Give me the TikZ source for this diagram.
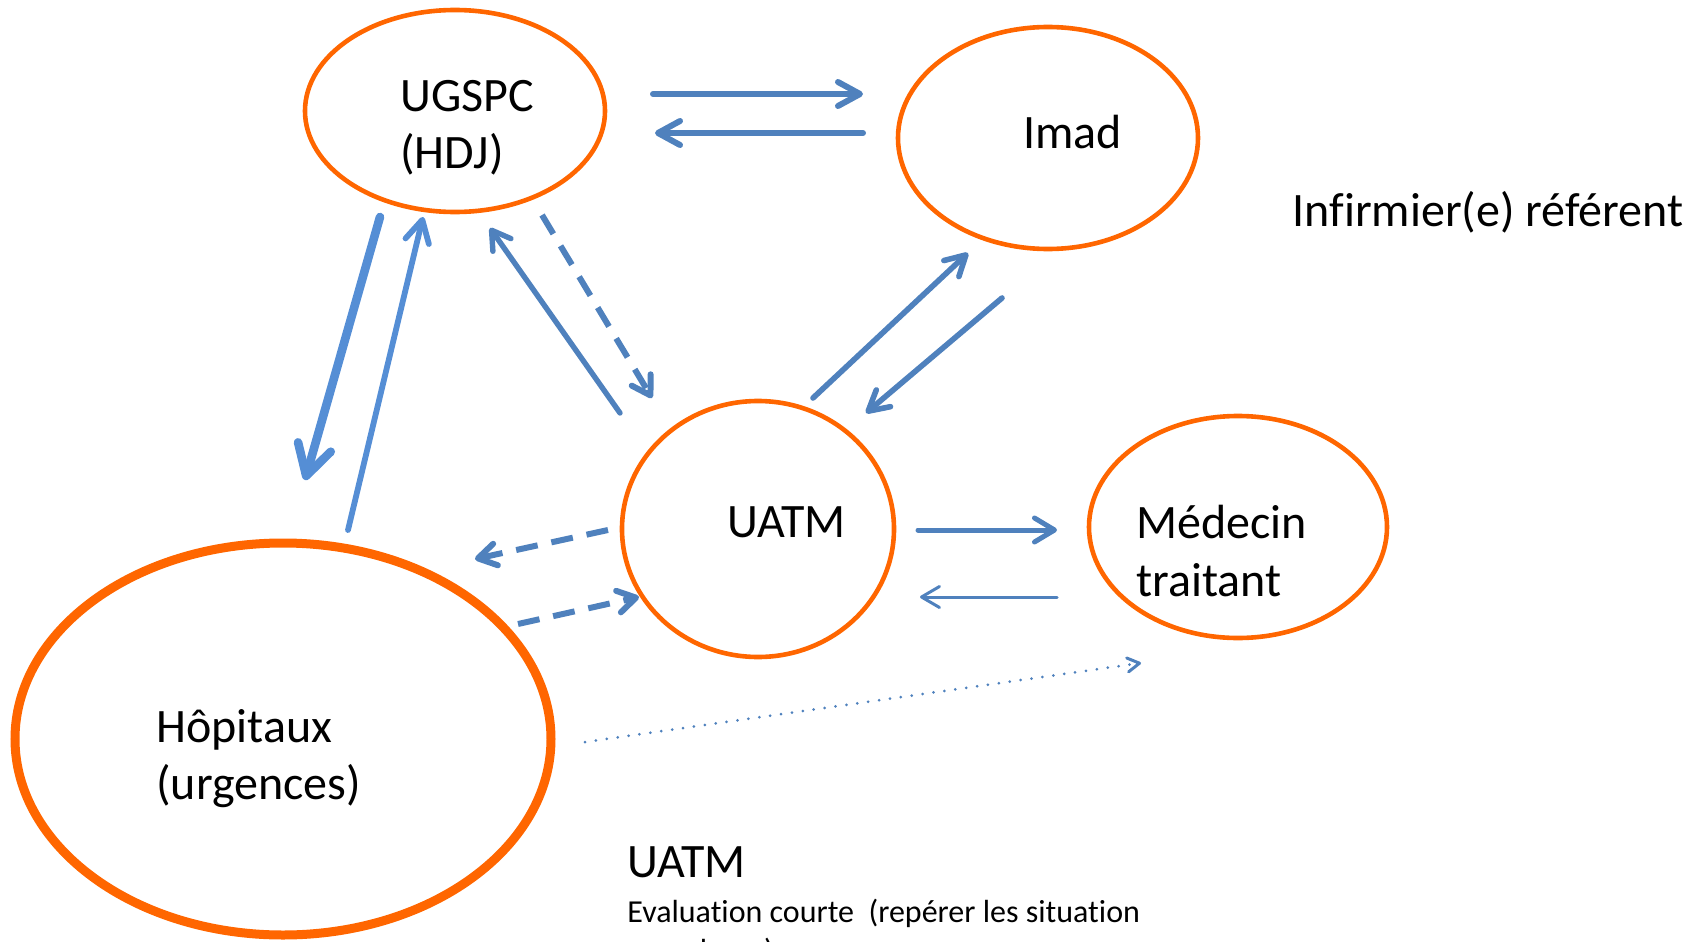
\documentclass[tikz,border=0pt]{standalone}
\usepackage{fontspec}
\setmainfont{Carlito}[Ligatures=NoCommon]
\usetikzlibrary{arrows.meta,shapes.geometric}
\definecolor{orng}{HTML}{FF6600}
\definecolor{blu}{HTML}{4F81BD}
\definecolor{blutwo}{HTML}{558ED5}
\begin{document}
\begin{tikzpicture}[x=0.5pt,y=-0.5pt,
  circ/.style={draw=orng,ellipse,line width=2.3pt,inner sep=0pt},
  lbl/.style={anchor=base west,inner sep=0pt,font=\fontsize{24}{29}\selectfont},
  small/.style={anchor=base west,inner sep=0pt,font=\fontsize{16}{19.5}\selectfont},
  conn/.style={draw=blu,line cap=round,line join=round},
  dashline/.style={dash pattern=on 11pt off 7pt},
  dotline/.style={line cap=round,dash pattern=on 0pt off 5.5pt},
  ]
\useasboundingbox (0,0) rectangle (1704,942);
\clip (0,0) rectangle (1704,942);

% ellipses
\node[circ,minimum width=150pt,minimum height=101pt] (ugspc) at (455,111) {};
\node[circ,minimum width=150pt,minimum height=111pt] (imad) at (1048,138) {};
\node[circ,minimum width=136pt,minimum height=128pt] (uatm) at (758,529) {};
\node[circ,minimum width=149pt,minimum height=111pt] (medecin) at (1238,527) {};
\node[circ,line width=4.5pt,minimum width=268pt,minimum height=196pt] (hop) at (283,739) {};

% labels
\node[lbl] (ugspcA) at (400,111) {UGSPC};
\node[lbl] (ugspcB) at (400,168) {(HDJ)};
\node[lbl] (imadT) at (1023,148) {Imad};
\node[lbl] (infT) at (1292,226) {Infirmier(e) référent};
\node[lbl] (uatmT) at (727,537) {UATM};
\node[lbl] (medA) at (1136,538) {Médecin};
\node[lbl] (medB) at (1136,596) {traitant};
\node[lbl] (hopA) at (156,742) {Hôpitaux};
\node[lbl] (hopB) at (156,799) {(urgences)};
\node[lbl] (uatmB) at (627,877) {UATM};
\node[small] (evalA) at (627,922) {Evaluation courte\ \ (repérer les situation};
\node[small] (evalB) at (627,961) {complexes)};

% connector end points
\coordinate (a1s) at (653,94);  \coordinate (a1e) at (863,94);
\coordinate (a2s) at (863,133); \coordinate (a2e) at (655,133);
\coordinate (a3s) at (380,217); \coordinate (a3e) at (305,480);
\coordinate (a4s) at (348,530); \coordinate (a4e) at (423,217);
\coordinate (a5s) at (620,413); \coordinate (a5e) at (490,228);
\coordinate (a6s) at (542,215); \coordinate (a6e) at (652,398);
\coordinate (a7s) at (813,398); \coordinate (a7e) at (968,253);
\coordinate (a8s) at (1002,298); \coordinate (a8e) at (866,413);
\coordinate (a9s) at (608,530); \coordinate (a9e) at (475,559);
\coordinate (a10s) at (518,624); \coordinate (a10e) at (639,597);
\coordinate (a11s) at (918,530); \coordinate (a11e) at (1057,530);
\coordinate (a12s) at (1057,597); \coordinate (a12e) at (920,597);
\coordinate (a13s) at (585,742); \coordinate (a13e) at (1141,663);

% connectors
\draw[conn,line width=3pt,-{Straight Barb[length=11pt,width=12pt,round]}] (a1s) -- (a1e);
\draw[conn,line width=3pt,-{Straight Barb[length=11pt,width=12pt,round]}] (a2s) -- (a2e);
\draw[conn,draw=blutwo,line width=4.3pt,-{Straight Barb[length=15pt,width=17pt,round]}] (a3s) -- (a3e);
\draw[conn,draw=blutwo,line width=2.9pt,-{Straight Barb[length=11pt,width=12pt,round]}] (a4s) -- (a4e);
\draw[conn,line width=2.7pt,-{Straight Barb[length=9pt,width=11pt,round]}] (a5s) -- (a5e);
\draw[conn,dashline,line width=3pt,line cap=butt,-{Straight Barb[length=9pt,width=11pt,round]}] (a6s) -- (a6e);
\draw[conn,line width=2.8pt,-{Straight Barb[length=10pt,width=11pt,round]}] (a7s) -- (a7e);
\draw[conn,line width=2.8pt,-{Straight Barb[length=10pt,width=11pt,round]}] (a8s) -- (a8e);
\draw[conn,dashline,line width=3pt,line cap=butt,-{Straight Barb[length=9pt,width=11pt,round]}] (a9s) -- (a9e);
\draw[conn,dashline,line width=3pt,line cap=butt,-{Straight Barb[length=9pt,width=11pt,round]}] (a10s) -- (a10e);
\draw[conn,line width=2.5pt,-{Straight Barb[length=10pt,width=12pt,round]}] (a11s) -- (a11e);
\draw[conn,line width=1.5pt,-{Straight Barb[length=9pt,width=10.5pt,round]}] (a12s) -- (a12e);
\draw[conn,dotline,line width=1.5pt,-{Straight Barb[length=6pt,width=7pt,round]}] (a13s) -- (a13e);
\end{tikzpicture}
\end{document}
